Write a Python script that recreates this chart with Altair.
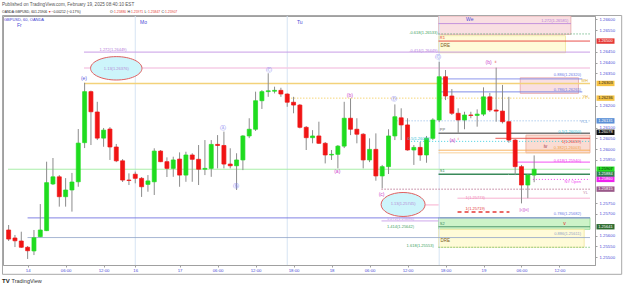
import altair as alt
import pandas as pd

# ---------------- data ----------------
# GBPUSD hourly bars (EST); bar index 0 = 17 Feb 00:00, weekend hours removed
bar_idx = list(range(-27, 57))
opens = [1.25626, 1.25589, 1.25575, 1.25546, 1.25529, 1.25595, 1.25623, 1.25839, 1.25872, 1.25780,
         1.25811, 1.25849, 1.26030, 1.26266, 1.26172, 1.26051, 1.26093, 1.26010, 1.25946, 1.25857,
         1.25884, 1.25865, 1.25837, 1.25849, 1.25991, 1.25942, 1.25911, 1.25954, 1.25880, 1.25973,
         1.25953, 1.25907, 1.25911, 1.26022, 1.26017, 1.25931, 1.25923, 1.25950, 1.26061, 1.26092,
         1.26224, 1.26266, 1.26268, 1.26272, 1.26255, 1.26217, 1.26204, 1.26101, 1.26053, 1.26061,
         1.26027, 1.25973, 1.25976, 1.26014, 1.26143, 1.26092, 1.26069, 1.25950, 1.25999, 1.25876,
         1.25919, 1.26061, 1.26145, 1.26112, 1.25996, 1.26008, 1.25973, 1.26050, 1.26135, 1.26335,
         1.26246, 1.26166, 1.26135, 1.26158, 1.26156, 1.26162, 1.26242, 1.26181, 1.26176, 1.26127,
         1.26042, 1.25919, 1.25834, 1.25880]
highs = [1.25649, 1.25603, 1.25618, 1.25552, 1.25626, 1.25746, 1.25942, 1.25959, 1.25880, 1.25866,
         1.25890, 1.26093, 1.26307, 1.26271, 1.26219, 1.26098, 1.26102, 1.26024, 1.25954, 1.25888,
         1.25896, 1.25871, 1.25880, 1.26004, 1.25996, 1.25962, 1.25965, 1.25985, 1.25988, 1.25981,
         1.26019, 1.26042, 1.26042, 1.26065, 1.26081, 1.26004, 1.25981, 1.26065, 1.26143, 1.26266,
         1.26273, 1.26351, 1.26289, 1.26284, 1.26258, 1.26242, 1.26209, 1.26107, 1.26088, 1.26127,
         1.26033, 1.25996, 1.26019, 1.26219, 1.26235, 1.26143, 1.26074, 1.26050, 1.26073, 1.25927,
         1.26092, 1.26207, 1.26189, 1.26143, 1.26019, 1.26033, 1.26061, 1.26143, 1.26404, 1.26366,
         1.26278, 1.26189, 1.26173, 1.26173, 1.26184, 1.26286, 1.26260, 1.26377, 1.26297, 1.26242,
         1.26047, 1.25927, 1.25885, 1.25971]
lows = [1.25575, 1.25547, 1.25543, 1.25492, 1.25510, 1.25593, 1.25621, 1.25834, 1.25734, 1.25734,
        1.25711, 1.25826, 1.26005, 1.26019, 1.26042, 1.26011, 1.25950, 1.25940, 1.25848, 1.25834,
        1.25842, 1.25779, 1.25803, 1.25788, 1.25940, 1.25871, 1.25872, 1.25826, 1.25849, 1.25849,
        1.25834, 1.25880, 1.25872, 1.25911, 1.25911, 1.25911, 1.25811, 1.25903, 1.26051, 1.26084,
        1.26186, 1.26242, 1.26258, 1.26242, 1.26196, 1.26166, 1.26096, 1.25996, 1.26027, 1.26024,
        1.25934, 1.25950, 1.25911, 1.26005, 1.26065, 1.26027, 1.25911, 1.25940, 1.25854, 1.25819,
        1.25885, 1.26042, 1.26042, 1.25993, 1.25927, 1.25946, 1.25937, 1.26042, 1.26125, 1.26227,
        1.26158, 1.26073, 1.26092, 1.26143, 1.26104, 1.26153, 1.26172, 1.26127, 1.26119, 1.26030,
        1.25880, 1.25749, 1.25773, 1.25847]
closes = [1.25584, 1.25576, 1.25546, 1.25530, 1.25590, 1.25626, 1.25845, 1.25872, 1.25780, 1.25811,
          1.25848, 1.26028, 1.26266, 1.26173, 1.26051, 1.26088, 1.26010, 1.25946, 1.25857, 1.25855,
          1.25865, 1.25826, 1.25853, 1.25991, 1.25942, 1.25911, 1.25950, 1.25880, 1.25973, 1.25953,
          1.25907, 1.25911, 1.26022, 1.26017, 1.25931, 1.25923, 1.25950, 1.26061, 1.26092, 1.26224,
          1.26266, 1.26270, 1.26272, 1.26255, 1.26217, 1.26204, 1.26101, 1.26053, 1.26061, 1.26027,
          1.25973, 1.25976, 1.26014, 1.26143, 1.26092, 1.26069, 1.25950, 1.25999, 1.25876, 1.25919,
          1.26061, 1.26150, 1.26112, 1.25996, 1.26008, 1.25973, 1.26050, 1.26135, 1.26335, 1.26246,
          1.26166, 1.26135, 1.26158, 1.26156, 1.26162, 1.26242, 1.26181, 1.26176, 1.26127, 1.26042,
          1.25919, 1.25834, 1.25880, 1.25907]

tick_idx = [-24, -18, -12, -7, 0, 6, 12, 18, 24, 30, 36, 42, 48, 54, 60]
tick_lbl = ["14", "06:00", "12:00", "16", "17", "06:00", "12:00", "18:00",
            "18", "06:00", "12:00", "18:00", "19", "06:00", "12:00"]
# price-scale labels that are not hidden behind the coloured price tags
price_ticks = [1.255, 1.2555, 1.256, 1.257, 1.2575, 1.2595, 1.26, 1.2605, 1.261, 1.262,
               1.2635, 1.264, 1.2645, 1.2655, 1.266]
session_idx = [-7, 17, 41]

level_names = ["ext1272_top", "ext0618_top", "r1", "ext0414", "ext113", "ret0886_top", "wh",
               "ret0786_top", "yh", "ycl", "pp", "t1_upper", "ret05", "ret0382", "ret0382b",
               "ret0618", "last", "s1", "ny_open", "yl", "t1_mid", "ext113_low", "t1_low",
               "ret0786_low", "ext1272_low", "s2", "ret0886_low", "ext1618"]
level_prices = [1.26581, 1.26533, 1.26500, 1.26449, 1.26376, 1.26325, 1.26304,
                1.26265, 1.26236, 1.26131, 1.26073, 1.26050, 1.26036, 1.25995, 1.25983,
                1.25940, 1.25907, 1.25884, 1.25860, 1.25815, 1.25773, 1.25742, 1.25709,
                1.25682, 1.25668, 1.25641, 1.25591, 1.25546]
level_from = [40.9, 40.9, 40.9, -15.1, -15.1, 40.9, -15.1,
              40.9, 16.7, 33.8, 40.9, 49.9, 36.1, 40.9, 40.9,
              52.7, -27.1, 40.9, 55.8, 31.9, 43.9, 31.9, 43.9,
              -24.0, 31.9, 40.9, -24.0, 40.9]
level_to = [61.8, 64.82, 64.82, 64.82, 64.82, 63.6, 64.82,
            63.6, 64.82, 64.82, 64.82, 64.82, 64.82, 64.82, 64.82,
            64.82, 64.82, 64.82, 64.82, 64.82, 64.82, 40.9, 52.1,
            64.82, 40.9, 64.82, 64.82, 64.82]

zone_names = ["wk_box", "dre_top", "pink_mid", "wave_iv", "s2_band", "dre_low"]
zone_from = [40.9, 40.9, 53.8, 54.7, 40.9, 40.9]
zone_to = [61.8, 60.95, 63.0, 64.82, 64.82, 63.9]
zone_top = [1.26616, 1.26525, 1.26330, 1.26065, 1.25683, 1.25629]
zone_bottom = [1.26531, 1.26446, 1.26258, 1.25983, 1.25629, 1.25546]

ann_text = ["1.272(1.26449)", "1.13(1.26376)", "(e)", "Ⓐ", "Ⓑ", "Ⓒ", "(b)", "Ⓓ", "(a)", "(c)",
            "Ⓒ", "(b)", "ii", "(a)", "i", "[c][iii]", "iv", "v", "PP", "S1", "S2", "R1", "DRE", "DRE",
            "1.272(1.26581)", "-0.618(1.26533)", "-0.414(1.26449)", "0.886(1.26320)",
            "0.786(1.26265)", "WH", "YH", "YCL", "0.5(1.26050)", "1(1.26059)", "0.382(1.26003)",
            "0.618(1.25940)", "NY Open", "YL", "1(1.25773)", "1(1.25719)", "0.786(1.25682)",
            "1.272(1.25686)", "1.414(1.25642)", "0.886(1.25611)", "1.618(1.25553)", "0.5(1.26050)",
            "1.13(1.25745)"]
ann_bar = [-10.5, -10.0, -15.1, 6.9, 8.9, 14.05, 26.9, 33.9, 24.9, 31.9,
           40.8, 48.8, 49.9, 43.1, 44.0, 54.4, 57.8, 60.8, 41.1, 41.1, 41.1, 41.1, 41.2, 41.2,
           61.4, 40.75, 40.75, 63.4,
           63.4, 64.5, 64.5, 64.5, 63.4, 63.4, 63.4,
           63.4, 63.4, 64.5, 46.7, 46.7, 63.4,
           34.9, 34.9, 63.4, 38.0, 37.8,
           35.3]
ann_price = [1.26461, 1.26373, 1.26331, 1.26098, 1.25829, 1.26366, 1.26250, 1.26230, 1.25899, 1.25793,
             1.26426, 1.26403, 1.26403, 1.26042, 1.26046, 1.25718, 1.26014, 1.25658, 1.26090, 1.25897,
             1.25652, 1.26514, 1.26479, 1.25577,
             1.26593, 1.26537, 1.26452, 1.26341,
             1.26273, 1.26315, 1.26241, 1.26125, 1.26079, 1.26035, 1.26003,
             1.25945, 1.25846, 1.25797, 1.25776, 1.25723, 1.25698,
             1.25676, 1.25642, 1.25607, 1.25553, 1.26049,
             1.25746]

tag_price = [1.26500, 1.26304, 1.26236, 1.26131, 1.26078, 1.25907, 1.25884, 1.25860, 1.25815, 1.25641]
tag_text = ["1.26500", "1.26303", "1.26236", "1.26131", "1.26078", "1.25907", "1.25884", "1.25860",
            "1.25815", "1.25641"]

ellipse_bar = [-10.0, 35.3]
ellipse_price = [1.26374, 1.25744]

# ---------------- styles ----------------
FONT = "Liberation Sans"
UP, DOWN, WICK = "#1fdc1f", "#f01414", "#8c8c8c"
AXIS_TXT = "#4b4bd6"
MAG = "#cc44cc"
CIRC = "#7d7df0"
level_style = {
    "ext1272_top": ("#b57edc", "solid", 1), "ext0618_top": ("#3f9f5f", "dot", 1),
    "r1": ("#e53935", "solid", 1), "ext0414": ("#c79be6", "solid", 1),
    "ext113": ("#f6cde6", "solid", 1.5), "ret0886_top": ("#7b86e8", "solid", 1),
    "wh": ("#f3d27a", "solid", 1.5), "ret0786_top": ("#6d7be6", "solid", 1),
    "yh": ("#f2c23a", "dot", 1), "ycl": ("#8ab4e6", "dot", 1), "pp": ("#777777", "solid", 1.5),
    "t1_upper": ("#e53935", "solid", 1), "ret05": ("#3fcfe0", "dot", 1),
    "ret0382": ("#f7a94b", "solid", 1), "ret0382b": ("#f9c98a", "solid", 1),
    "ret0618": ("#f040f0", "solid", 1), "last": ("#a8eea8", "solid", 1),
    "s1": ("#3a8a5a", "solid", 1.5), "ny_open": ("#f040f0", "dot", 1),
    "yl": ("#c0809c", "dot", 1.5), "t1_mid": ("#f5a3c7", "solid", 1),
    "ext113_low": ("#f5a3c7", "solid", 1), "t1_low": ("#e53935", "dash", 1.5),
    "ret0786_low": ("#6f73e0", "solid", 1), "ext1272_low": ("#c79be6", "solid", 1),
    "s2": ("#3a8a5a", "solid", 1), "ret0886_low": ("#8fa3c6", "solid", 1),
    "ext1618": ("#4caf50", "dot", 1),
}
dash_pattern = {"solid": [1, 0], "dot": [1, 2], "dash": [4, 3]}
zone_style = {
    "wk_box": ("#f9dfe2", "#e6a4a8"), "dre_top": ("#fffbd8", "#f0e59a"),
    "pink_mid": ("#f9dfe2", "#e6a4a8"), "wave_iv": ("#fadcd3", "#e8a898"),
    "s2_band": ("#cdf3c8", "#8fd88f"), "dre_low": ("#fffbd8", "#f0e59a"),
}
ann_style = [("#b47ad8", 4, "center"), ("#b58ad6", 4, "center"), ("#5a5ae0", 5, "center"),
             (CIRC, 6, "center"), (CIRC, 6, "center"), (CIRC, 6, "center"), (MAG, 5, "center"),
             (CIRC, 6, "center"), (MAG, 5, "center"), (MAG, 5, "center"),
             (CIRC, 6, "center"), (MAG, 5, "center"), ("#e53935", 4, "center"), (MAG, 5, "center"),
             ("#e53935", 4, "center"), (MAG, 4, "center"), ("#a0303a", 5, "center"),
             ("#e02020", 5, "center"), ("#666666", 4, "left"), ("#3a8a5a", 4, "left"),
             ("#3a8a5a", 4, "left"), ("#e53935", 4, "left"), ("#7a5a20", 4.5, "left"),
             ("#7a5a20", 4.5, "left"),
             ("#b57edc", 4, "right"), ("#3f9f5f", 4, "right"), ("#b57edc", 4, "right"),
             ("#6d7be6", 4, "right"),
             ("#6d7be6", 4, "right"), ("#e0b030", 4, "right"), ("#e0b030", 4, "right"),
             ("#70a0d8", 4, "right"), ("#30c0d8", 4, "right"), ("#e53935", 4, "right"),
             ("#f0a040", 4, "right"),
             ("#f040f0", 4, "right"), ("#f040f0", 4, "right"), ("#c0809c", 4, "right"),
             ("#f08ab8", 4, "center"), ("#e53935", 4, "center"), ("#6d7be6", 4, "right"),
             ("#c79be6", 4, "center"), ("#3f9f5f", 4, "center"), ("#8fa3c6", 4, "right"),
             ("#3f9f5f", 4, "center"), ("#30c0d8", 4, "center"),
             ("#b58ad6", 4, "center")]
tag_style = [("#e53935", "white"), ("#f5c242", "#222"), ("#f5c242", "#222"), ("#5b8fd6", "white"),
             ("#111111", "white"), ("#22e022", "#111"), ("#2e7d4f", "white"), ("#ee22ee", "white"),
             ("#9a5a8a", "white"), ("#2e6b30", "white")]

# ---------------- chart ----------------
W, H = 592, 249
xs = alt.Scale(domain=[-27.1, 64.82], nice=False, zero=False)
ys = alt.Scale(domain=[1.25464, 1.26616], nice=False, zero=False)

lbl_expr = "[" + ",".join("'" + s + "'" for s in tick_lbl) + "][indexof([" + \
    ",".join(str(v) for v in tick_idx) + "], datum.value)]"
x_axis = alt.Axis(values=tick_idx, labelExpr=lbl_expr, grid=False, tickSize=2, tickColor="#a0a0a0",
                  domainColor="#a0a0a0", labelFontSize=4.3, labelColor=AXIS_TXT, labelPadding=1.5,
                  title=None, labelFont=FONT, labelOverlap=False, labelFlush=False)
y_axis = alt.Axis(orient="right", values=price_ticks, format=".5f", grid=False, tickSize=2,
                  tickColor="#a0a0a0", domainColor="#a0a0a0", labelFontSize=4.3, labelColor=AXIS_TXT,
                  labelPadding=2, title=None, labelFont=FONT, labelOverlap=False, labelFlush=False)


def X(f):
    return alt.X(f, type="quantitative", scale=xs, axis=x_axis)


def Y(f):
    return alt.Y(f, type="quantitative", scale=ys, axis=y_axis)


cd = pd.DataFrame({"i": bar_idx, "o": opens, "h": highs, "l": lows, "c": closes})
cd["col"] = [UP if c >= o else DOWN for o, c in zip(opens, closes)]

zn = pd.DataFrame({"a": zone_from, "b": zone_to, "t": zone_top, "bt": zone_bottom,
                   "fill": [zone_style[n][0] for n in zone_names],
                   "st": [zone_style[n][1] for n in zone_names]})
zones = alt.Chart(zn).mark_rect(strokeWidth=0.8).encode(
    x=X("a"), x2="b", y=Y("t"), y2="bt",
    color=alt.Color("fill:N", scale=None), stroke=alt.Stroke("st:N", scale=None))

sessions = alt.Chart(pd.DataFrame({"i": session_idx})).mark_rule(
    color="#d6e4f3", strokeWidth=1).encode(x=X("i"))

lv = pd.DataFrame({"p": level_prices, "a": level_from, "b": level_to,
                   "col": [level_style[n][0] for n in level_names],
                   "dash": [level_style[n][1] for n in level_names],
                   "w": [level_style[n][2] for n in level_names]})
level_layers = []
for kind, pat in dash_pattern.items():
    sub = lv[lv["dash"] == kind]
    level_layers.append(alt.Chart(sub).mark_rule(strokeDash=pat).encode(
        x=X("a"), x2="b", y=Y("p"),
        color=alt.Color("col:N", scale=None),
        strokeWidth=alt.StrokeWidth("w:Q", scale=None)))

wicks = alt.Chart(cd).mark_rule(color=WICK, strokeWidth=1).encode(
    x=X("i"), y=Y("l"), y2="h")
bodies = alt.Chart(cd).mark_bar(size=4, strokeWidth=0.7).encode(
    x=X("i"), y=Y("o"), y2="c",
    color=alt.Color("col:N", scale=None), stroke=alt.Stroke("col:N", scale=None))


def ellipse_path(r):
    return f"M -1 0 A 1 {r} 0 1 1 1 0 A 1 {r} 0 1 1 -1 0 Z"


ell_layers = []
for k, (r, wpx) in enumerate([(0.455, 51.4), (0.545, 44.0)]):
    ell_layers.append(alt.Chart(pd.DataFrame({"i": [ellipse_bar[k]], "p": [ellipse_price[k]]}))
                      .mark_point(shape=ellipse_path(r), size=wpx * wpx, filled=True,
                                  fill="#cdf5fb", stroke="#e06060", strokeWidth=1, opacity=1)
                      .encode(x=X("i"), y=Y("p")))

an = pd.DataFrame({"t": ann_text, "i": ann_bar, "p": ann_price,
                   "col": [s[0] for s in ann_style], "fs": [s[1] for s in ann_style],
                   "al": [s[2] for s in ann_style]})
ann_layers = []
for al in ["left", "center", "right"]:
    sub = an[an["al"] == al]
    ann_layers.append(alt.Chart(sub).mark_text(align=al, baseline="middle", font=FONT).encode(
        x=X("i"), y=Y("p"), text="t:N",
        color=alt.Color("col:N", scale=None), size=alt.Size("fs:Q", scale=None)))

tg = pd.DataFrame({"p": tag_price, "t": tag_text,
                   "bg": [s[0] for s in tag_style], "fg": [s[1] for s in tag_style]})
tag_box = alt.Chart(tg).mark_point(shape="M -1 -0.3 L 1 -0.3 L 1 0.3 L -1 0.3 Z", size=324,
                                   filled=True, opacity=1).encode(
    x=alt.value(602.5), y=Y("p"), color=alt.Color("bg:N", scale=None))
tag_txt = alt.Chart(tg).mark_text(fontSize=4, font=FONT, baseline="middle").encode(
    x=alt.value(602.5), y=Y("p"), text="t:N", color=alt.Color("fg:N", scale=None))

one = pd.DataFrame({"k": [0]})


def label(t, x, y, color, size, weight="normal", align="left"):
    return alt.Chart(one).mark_text(text=t, fontSize=size, color=color, font=FONT, align=align,
                                    baseline="middle", fontWeight=weight).encode(
        x=alt.value(x), y=alt.value(y))


frame = alt.Chart(one).mark_rect(fillOpacity=0, stroke="#a8a8a8", strokeWidth=1).encode(
    x=alt.value(-0.5), x2=alt.value(618.7), y=alt.value(-0.5), y2=alt.value(258.3))

HS = 3.4
texts = [
    label("Published on TradingView.com, February 19, 2025 08:40:10 EST", -1, -11.5, "#555555", 4.6),
    label("OANDA:GBPUSD, 60", -1, -4.5, "#222222", HS),
    label("1.25906", 32, -4.5, "#222222", HS),
    label("▼", 45, -4.5, "#e53935", HS),
    label("−0.00212 (−0.17%)", 48.5, -4.5, "#222222", HS),
    label("O:", 107, -4.5, "#222222", HS), label("1.25880", 111, -4.5, "#e53935", HS),
    label("H:", 124.5, -4.5, "#222222", HS), label("1.25971", 128, -4.5, "#e53935", HS),
    label("L:", 141.5, -4.5, "#222222", HS), label("1.25847", 145, -4.5, "#e53935", HS),
    label("C:", 158.5, -4.5, "#222222", HS), label("1.25907", 162, -4.5, "#e53935", HS),
    label("GBPUSD, 60, OANDA", 1, 4, "#3a3ad0", 4),
    label("Fr", 14, 9, "#4b4bd6", 5), label("Mo", 137, 6, "#4b4bd6", 5),
    label("Tu", 294, 6, "#4b4bd6", 5), label("We", 463, 2.5, "#4b4bd6", 5),
    label("TV", -1, 265, "#222222", 6, "bold"), label("TradingView", 8.5, 265, "#333333", 5.5),
]

layers = [zones, sessions] + level_layers + [wicks, bodies] + ell_layers + ann_layers + \
    [tag_box, tag_txt, frame] + texts

chart = alt.layer(*layers).properties(
    width=W, height=H,
    padding={"left": 3, "top": 16, "right": 30, "bottom": 22},
    autosize=alt.AutoSizeParams(type="none"),
    background="white",
).configure_view(stroke="#a0a0a0", strokeWidth=1)

chart.save("out.html", embed_options={"renderer": "svg", "actions": False})
